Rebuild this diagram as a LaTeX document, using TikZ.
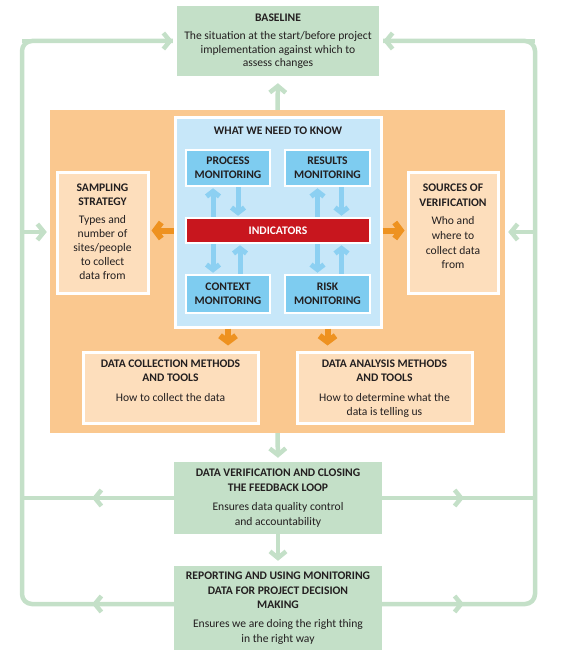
\documentclass[tikz,border=0pt]{standalone}
\usepackage{fontspec}
\setmainfont{Carlito}
\usetikzlibrary{arrows.meta}
\definecolor{grn}{RGB}{196,224,200}
\definecolor{orng}{RGB}{250,200,143}
\definecolor{peach}{RGB}{253,222,188}
\definecolor{bluel}{RGB}{199,231,249}
\definecolor{blueb}{RGB}{126,204,240}
\definecolor{bluea}{RGB}{140,208,242}
\definecolor{redi}{RGB}{200,22,30}
\definecolor{orarr}{RGB}{238,146,32}
\definecolor{txt}{RGB}{35,31,32}
\begin{document}
\begin{tikzpicture}[x=1pt,y=-1pt,
  font=\fontsize{11.6}{13.5}\selectfont, text=txt,
  gbox/.style={fill=grn, inner sep=0pt, align=center, minimum width=208pt},
  pbox/.style={fill=peach, draw=white, line width=3pt, inner sep=0pt},
  ptext/.style={anchor=north, align=center, inner sep=0pt},
  bbox/.style={fill=blueb, draw=white, line width=2.5pt, inner sep=0pt, align=center,
    minimum width=84pt, minimum height=36pt, font=\fontsize{11.6}{14}\selectfont\bfseries},
  gline/.style={draw=grn, line width=4.5pt},
  garrow/.style={gline, -{Straight Barb[length=6.5pt,width=16pt]}},
  oarrow/.style={draw=orarr, line width=6pt, -{Straight Barb[length=6pt,width=16pt]}},
  barrow/.style={draw=bluea, line width=5pt, -{Straight Barb[length=5pt,width=13pt]}}
]
\useasboundingbox (0,0) rectangle (570,660);

% loop coordinates
\coordinate (ltop) at (22,41);
\coordinate (lbot) at (22,604);
\coordinate (rtop) at (535,41);
\coordinate (rbot) at (535,604);
\coordinate (lver) at (22,498);
\coordinate (rver) at (535,498);
\coordinate (lsam) at (22,232);
\coordinate (rsrc) at (535,232);
\coordinate (repL) at (174,604);
\coordinate (repR) at (382,604);
\coordinate (mlv) at (92,498);
\coordinate (mlr) at (92,604);
\coordinate (mrv) at (464,498);
\coordinate (mrr) at (464,604);

% boxes
\node[gbox, minimum width=202pt, minimum height=70pt] (base) at (278,41)
  {\textbf{BASELINE}\\[5pt]The situation at the start/before project\\implementation against which to\\assess changes};
\node[fill=orng, minimum width=455pt, minimum height=323pt, inner sep=0pt] (obg) at (277.5,271.5) {};
\node[gbox, minimum height=72pt, font=\fontsize{11.6}{14.8}\selectfont] (verif) at (278,498)
  {\textbf{DATA VERIFICATION AND CLOSING}\\\textbf{THE FEEDBACK LOOP}\\[4pt]Ensures data quality control\\and accountability};
\node[gbox, minimum height=84pt, font=\fontsize{11.6}{14.8}\selectfont] (report) at (278,608)
  {\textbf{REPORTING AND USING MONITORING}\\\textbf{DATA FOR PROJECT DECISION}\\\textbf{MAKING}\\[4pt]Ensures we are doing the right thing\\in the right way};

% green loop
\draw[gline, rounded corners=10pt] (repL) -- (lbot) -- (ltop) -- ([xshift=-4pt]base.west);
\draw[gline, rounded corners=10pt] (repR) -- (rbot) -- (rtop) -- ([xshift=4pt]base.east);
\draw[garrow] (rtop) -- ([xshift=4pt]base.east);
\draw[garrow] (ltop) -- ([xshift=-4pt]base.west);
\draw[gline] (verif.west) -- (lver);
\draw[gline] (verif.east) -- (rver);
\draw[garrow] (verif.west) -- (mlv);
\draw[garrow] (repL) -- (mlr);
\draw[garrow] (verif.east) -- (mrv);
\draw[garrow] (repR) -- (mrr);
\draw[garrow, shorten >=3pt] (lsam) -- (obg.west |- lsam);
\draw[garrow, shorten >=3pt] (rsrc) -- (obg.east |- rsrc);
\draw[garrow, shorten >=7pt] (obg.north) -- (base.south);
\draw[garrow, shorten >=4pt] (obg.south) -- (verif.north);
\draw[garrow, shorten >=5pt] (verif.south) -- (report.north);

% inner structure
\node[fill=bluel, draw=white, line width=3pt, minimum width=206pt, minimum height=209pt, inner sep=0pt] (cont) at (278,222.5) {};
\node[font=\fontsize{11.6}{13.5}\selectfont\bfseries, inner sep=0pt] (what) at (278,131) {WHAT WE NEED TO KNOW};
\node[bbox] (proc) at (228,168) {PROCESS\\MONITORING};
\node[bbox, minimum width=85pt] (res) at (327.5,168) {RESULTS\\MONITORING};
\node[fill=redi, draw=white, line width=2.5pt, minimum width=184pt, minimum height=25pt, inner sep=0pt,
  text=white, font=\fontsize{11.6}{13.5}\selectfont\bfseries] (ind) at (278,230.5) {INDICATORS};
\node[bbox, minimum height=38pt] (ctx) at (228,294) {CONTEXT\\MONITORING};
\node[bbox, minimum width=85pt, minimum height=38pt] (risk) at (327.5,294) {RISK\\MONITORING};

\node[pbox, minimum width=91pt, minimum height=120pt] (samp) at (102.5,233) {};
\node[ptext, font=\fontsize{11.6}{14}\selectfont] (samptxt) at ([yshift=-12.5pt]samp.north)
  {\textbf{SAMPLING}\\\textbf{STRATEGY}\\[4pt]Types and\\number of\\sites/people\\to collect\\data from};
\node[pbox, minimum width=90pt, minimum height=120pt] (src) at (453,233) {};
\node[ptext, font=\fontsize{11.6}{14.8}\selectfont] (srctxt) at ([yshift=-12.5pt]src.north)
  {\textbf{SOURCES OF}\\\textbf{VERIFICATION}\\[3pt]Who and\\where to\\collect data\\from};
\node[pbox, minimum width=175pt, minimum height=71pt] (dcoll) at (170.5,387.5) {};
\node[ptext, font=\fontsize{11.6}{14.6}\selectfont] (dcolltxt) at ([yshift=-8.75pt]dcoll.north)
  {\textbf{DATA COLLECTION METHODS}\\\textbf{AND TOOLS}\\[5pt]How to collect the data};
\node[pbox, minimum width=175pt, minimum height=71pt] (dana) at (384.5,387.5) {};
\node[ptext, font=\fontsize{11.6}{14.6}\selectfont] (danatxt) at ([yshift=-8.75pt]dana.north)
  {\textbf{DATA ANALYSIS METHODS}\\\textbf{AND TOOLS}\\[5pt]How to determine what the\\data is telling us};

% orange arrows
\draw[oarrow, shorten >=2pt] (cont.west |- ind.center) -- (samp.east |- ind.center);
\draw[oarrow, shorten >=2pt] (cont.east |- ind.center) -- (src.west |- ind.center);
\draw[oarrow, shorten >=5pt] (proc |- cont.south) -- (proc |- dcoll.north);
\draw[oarrow, shorten >=5pt] (res |- cont.south) -- (res |- dana.north);

% blue arrows
\draw[barrow, shorten >=1pt] ([xshift=-15pt]proc.south |- ind.north) -- ([xshift=-15pt]proc.south);
\draw[barrow, shorten >=1pt] ([xshift=10pt]proc.south) -- ([xshift=10pt]proc.south |- ind.north);
\draw[barrow, shorten >=1pt] ([xshift=-15pt]ctx.north |- ind.south) -- ([xshift=-15pt]ctx.north);
\draw[barrow, shorten >=1pt] ([xshift=12pt]ctx.north) -- ([xshift=12pt]ctx.north |- ind.south);
\draw[barrow, shorten >=1pt] ([xshift=-10pt]res.south |- ind.north) -- ([xshift=-10pt]res.south);
\draw[barrow, shorten >=1pt] ([xshift=14pt]res.south) -- ([xshift=14pt]res.south |- ind.north);
\draw[barrow, shorten >=1pt] ([xshift=-10pt]risk.north |- ind.south) -- ([xshift=-10pt]risk.north);
\draw[barrow, shorten >=1pt] ([xshift=14pt]risk.north) -- ([xshift=14pt]risk.north |- ind.south);
\end{tikzpicture}
\end{document}
